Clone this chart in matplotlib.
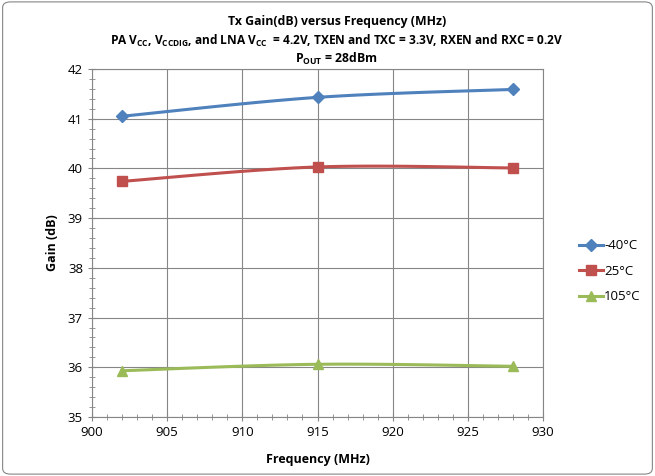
import numpy as np
import matplotlib
matplotlib.use("Agg")
import matplotlib.pyplot as plt
from matplotlib.patches import FancyBboxPatch
from matplotlib.ticker import MultipleLocator

freq = [902, 915, 928]
gain_m40 = [41.05, 41.43, 41.59]
gain_25 = [39.74, 40.03, 40.01]
gain_105 = [35.93, 36.06, 36.02]
labels = ["-40°C", "25°C", "105°C"]
colors = ["#4F81BD", "#C0504D", "#9BBB59"]
markers = ["D", "s", "^"]

plt.rcParams['font.family'] = ['Open Sans', 'DejaVu Sans']
plt.rcParams['mathtext.fontset'] = 'custom'
plt.rcParams['mathtext.bf'] = 'Open Sans:bold'
plt.rcParams['mathtext.rm'] = 'Open Sans'


def smooth(x, y, n=40):
    # Catmull-Rom style smoothing (like Excel's smoothed line) for drawing only
    x = np.asarray(x, float); y = np.asarray(y, float)
    px = np.concatenate([[x[0]], x, [x[-1]]])
    py = np.concatenate([[y[0]], y, [y[-1]]])
    xs, ys = [], []
    for i in range(1, len(px) - 2):
        p0, p1, p2, p3 = [np.array([px[j], py[j]]) for j in (i - 1, i, i + 1, i + 2)]
        c1 = p1 + (p2 - p0) / 6.0
        c2 = p2 - (p3 - p1) / 6.0
        t = np.linspace(0, 1, n)[:, None]
        b = (1 - t) ** 3 * p1 + 3 * (1 - t) ** 2 * t * c1 + 3 * (1 - t) * t ** 2 * c2 + t ** 3 * p2
        xs.append(b[:, 0]); ys.append(b[:, 1])
    return np.concatenate(xs), np.concatenate(ys)


fig = plt.figure(figsize=(6.55, 4.76), dpi=100)
fig.patches.append(FancyBboxPatch((0.004, 0.004), 0.992, 0.992, boxstyle="round,pad=0,rounding_size=0.012",
                                  transform=fig.transFigure, facecolor='white', edgecolor='#868686', lw=0.8,
                                  zorder=-10))
ax = fig.add_axes([0.1405, 0.124, 0.6885, 0.731])
ax.set_zorder(2)
ax.patch.set_alpha(0)

handles = []
for ys, lab, c, m in zip([gain_m40, gain_25, gain_105], labels, colors, markers):
    sx, sy = smooth(freq, ys)
    ms = 6 if m == 'D' else (7 if m == '^' else 6.5)
    ax.plot(sx, sy, color=c, lw=2.2, zorder=3)
    ax.plot(freq, ys, ls='none', marker=m, color=c, ms=ms, zorder=4)
    h, = ax.plot([], [], color=c, lw=2.2, marker=m, ms=ms)
    handles.append(h)

ax.set_xlim(900, 930)
ax.set_ylim(35, 42)
ax.xaxis.set_major_locator(MultipleLocator(5))
ax.xaxis.set_minor_locator(MultipleLocator(1))
ax.yaxis.set_major_locator(MultipleLocator(1))
ax.yaxis.set_minor_locator(MultipleLocator(0.2))
ax.grid(True, which='major', color='#868686', lw=0.8)
for s in ax.spines.values():
    s.set_color('#868686')
ax.tick_params(which='both', direction='inout', color='#868686', labelsize=9.5)
ax.tick_params(which='major', length=6)
ax.tick_params(which='minor', length=4)
ax.set_xlabel('Frequency (MHz)', fontweight='bold', fontsize=9)
ax.set_ylabel('Gain (dB)', fontweight='bold', fontsize=9)
ax.xaxis.set_label_coords(0.5, -0.103)
ax.yaxis.set_label_coords(-0.073, 0.5)

fig.text(0.514, 0.955, 'Tx Gain(dB) versus Frequency (MHz)', ha='center', va='center', fontweight='bold', fontsize=8.8)
fig.text(0.514, 0.914, r'PA V$_\mathbf{CC}$, V$_\mathbf{CCDIG}$, and LNA V$_\mathbf{CC}$  = 4.2V, TXEN and TXC = 3.3V, RXEN and RXC = 0.2V',
         ha='center', va='center', fontweight='bold', fontsize=8.6)
fig.text(0.514, 0.877, r'P$_\mathbf{OUT}$ = 28dBm', ha='center', va='center', fontweight='bold', fontsize=8.8)

fig.legend(handles, labels, loc='center left', bbox_to_anchor=(0.866, 0.43), frameon=False, fontsize=9.5,
           handlelength=1.8, handletextpad=0.1, labelspacing=0.95)

fig.savefig('out.png', dpi=100)
